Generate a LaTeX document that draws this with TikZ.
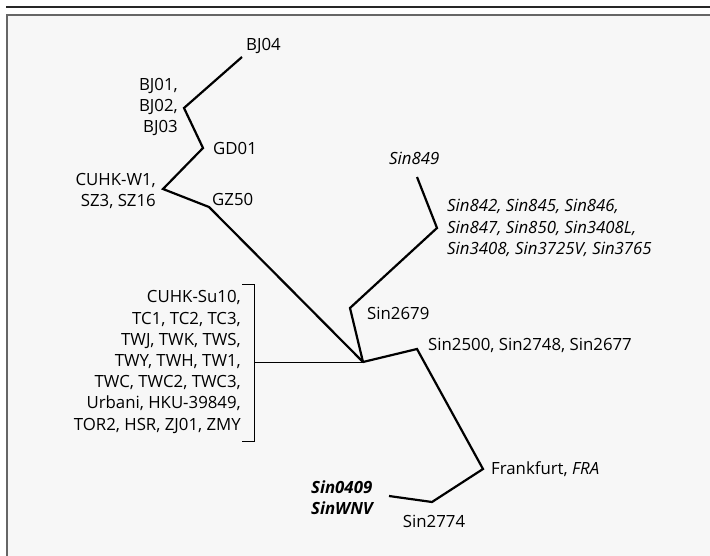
\documentclass[tikz,border=0pt]{standalone}
\usepackage{fontspec}
\setmainfont{Open Sans}
\begin{document}
\begin{tikzpicture}[x=1pt,y=-1pt,
    branch/.style={line width=2.2pt,line join=miter},
    lbl/.style={inner sep=0pt,font=\fontsize{16.8}{21.2}\selectfont},
    strains/.style={lbl,align=right,anchor=east}]
    \useasboundingbox (0,0) rectangle (710,556);
    %% frame
    \fill[black!3] (7,15) rectangle (710,556);
    \draw[black!60,line width=2pt] (7,556) -- (7,15) -- (710,15);
    \draw[black!85,line width=1.5pt] (6,7) -- (710,7);
    %% branch points
    \coordinate (root) at (363,362);
    \coordinate (bj04) at (242,57);
    \coordinate (bj) at (184,108);
    \coordinate (gd01) at (203,148);
    \coordinate (cuhk) at (163,189);
    \coordinate (gz50) at (209,207);
    \coordinate (sin849) at (417,177);
    \coordinate (sin842) at (437,228);
    \coordinate (sin2679) at (350,308);
    \coordinate (sin2500) at (417,349);
    \coordinate (fra) at (483,469);
    \coordinate (sin2774) at (432,502);
    \coordinate (sin0409) at (389,496);
    \coordinate (brk) at (254,362);
    %% tree
    \draw[branch] (bj04) -- (bj) -- (gd01) -- (cuhk) -- (gz50) -- (root);
    \draw[branch] (sin849) -- (sin842) -- (sin2679) -- (root);
    \draw[branch] (root) -- (sin2500) -- (fra) -- (sin2774) -- (sin0409);
    %% bracket
    \draw[line width=0.9pt] (root) -- (brk);
    \draw[line width=0.9pt] (242,284) -- (254,284) -- (254,441) -- (242,441);
    %% labels
    \node[lbl,anchor=west] (lbj04) at (246,46) {BJ04};
    \node[strains] (lbj) at (178,107) {BJ01,\\BJ02,\\BJ03};
    \node[lbl,anchor=west] (lgd01) at (213,148) {GD01};
    \node[strains] (lcuhk) at (156,191) {CUHK-W1,\\SZ3, SZ16};
    \node[lbl,anchor=west] (lgz50) at (212,199) {GZ50};
    \node[lbl,anchor=west,font=\fontsize{16.8}{21.2}\selectfont\itshape] (lsin849) at (389,158) {Sin849};
    \node[lbl,anchor=west,align=left,font=\fontsize{16.8}{21.2}\selectfont\itshape] (lsin842) at (447,228) {Sin842, Sin845, Sin846,\\Sin847, Sin850, Sin3408L,\\Sin3408, Sin3725V, Sin3765};
    \node[lbl,anchor=west] (lsin2679) at (367,313) {Sin2679};
    \node[lbl,anchor=west] (lsin2500) at (428,345) {Sin2500, Sin2748, Sin2677};
    \node[lbl,anchor=west] (lfra) at (491,469) {Frankfurt, \textit{FRA}};
    \node[lbl] (lsin2774) at (434,521) {Sin2774};
    \node[lbl,anchor=west,align=left,font=\fontsize{16.8}{21.2}\selectfont\bfseries\itshape] (lsin0409) at (311,498) {Sin0409\\SinWNV};
    \node[strains] (lgroup) at (241,362) {CUHK-Su10,\\TC1, TC2, TC3,\\TWJ, TWK, TWS,\\TWY, TWH, TW1,\\TWC, TWC2, TWC3,\\Urbani, HKU-39849,\\TOR2, HSR, ZJ01, ZMY};
\end{tikzpicture}
\end{document}
